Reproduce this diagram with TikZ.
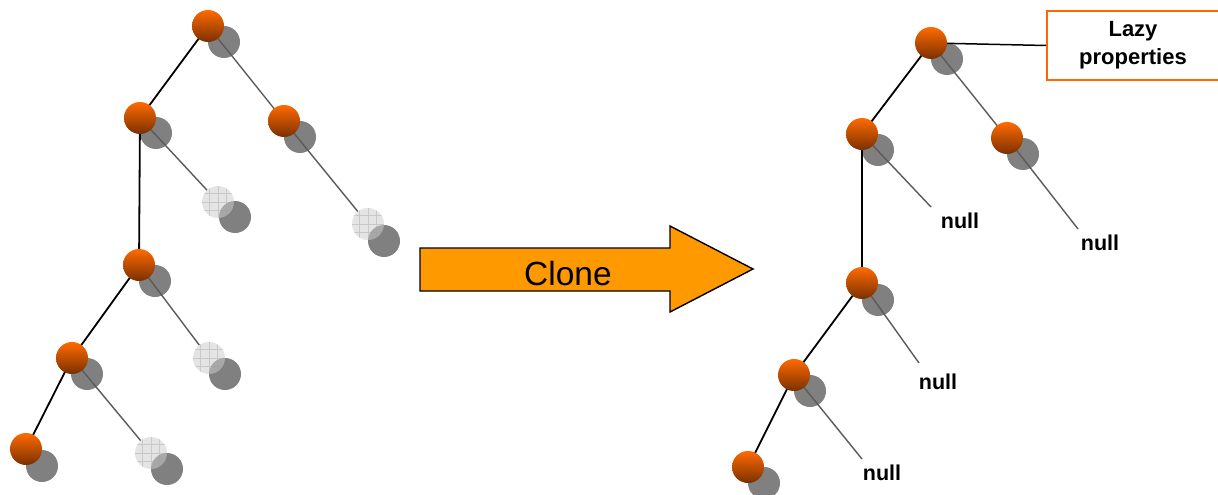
\documentclass[tikz,border=0pt]{standalone}
\usepackage{fontspec}
\setmainfont{Liberation Sans}
\definecolor{keytop}{RGB}{255,106,0}
\definecolor{keymid}{RGB}{236,94,0}
\definecolor{keybottom}{RGB}{122,48,0}
\definecolor{shadowgray}{RGB}{128,128,128}
\definecolor{emptyfill}{RGB}{204,204,204}
\definecolor{gridgray}{RGB}{160,160,160}
\definecolor{linkgray}{RGB}{90,90,90}
\definecolor{arrowfill}{RGB}{255,153,0}
\definecolor{boxline}{RGB}{255,102,0}
\begin{document}
\begin{tikzpicture}[x=1pt,y=-1pt,
  shadowdisc/.style={circle,fill=shadowgray,minimum size=32pt,inner sep=0pt},
  keydisc/.style={circle,top color=keytop,middle color=keymid,bottom color=keybottom,
    minimum size=32pt,inner sep=0pt},
  emptydisc/.style={circle,minimum size=32pt,inner sep=0pt,
    fill=emptyfill,fill opacity=0.53,
    path picture={\draw[gridgray,draw opacity=0.4,line width=0.6pt]
      ([xshift=-1pt,yshift=-1pt]path picture bounding box.south west)
      grid[step=8.5pt] (path picture bounding box.north east);}},
  leftlink/.style={line width=1.8pt,black},
  rightlink/.style={line width=1.4pt,linkgray},
  nulltext/.style={font=\fontsize{21.5}{25}\selectfont\bfseries,anchor=base,inner sep=0pt},
  clonearrow/.style={draw=black,line width=1.4pt,fill=arrowfill,line join=miter},
  clonetext/.style={font=\fontsize{33.5}{40}\selectfont,anchor=base,inner sep=0pt},
  lazybox/.style={draw=boxline,line width=2pt,fill=white,minimum width=172pt,
    minimum height=69pt,align=center,inner sep=0pt,
    font=\fontsize{22}{28}\selectfont\bfseries}
]
\useasboundingbox (0,0) rectangle (1218,495);

% ---------- left tree: shadows ----------
\node[shadowdisc] (l1s) at (224,42) {};
\node[shadowdisc] (l2s) at (156,133) {};
\node[shadowdisc] (l3s) at (300,137) {};
\node[shadowdisc] (l4s) at (155,281) {};
\node[shadowdisc] (l5s) at (87,374) {};
\node[shadowdisc] (l6s) at (42,466) {};
\node[shadowdisc] (las) at (235,217) {};
\node[shadowdisc] (lbs) at (384,241) {};
\node[shadowdisc] (lcs) at (225,374) {};
\node[shadowdisc] (lds) at (167,469) {};

% empty children
\node[emptydisc] (la) at (218,202) {};
\node[emptydisc] (lb) at (368,224) {};
\node[emptydisc] (lc) at (209,358) {};
\node[emptydisc] (ld) at (151,453) {};

% key positions
\coordinate (l1) at (208,26);
\coordinate (l2) at (140,118);
\coordinate (l3) at (284,121);
\coordinate (l4) at (139,265);
\coordinate (l5) at (72,358);
\coordinate (l6) at (26,449);

% links
\draw[leftlink] (l1) -- (l2);
\draw[leftlink] (l2) -- (l4);
\draw[leftlink] (l4) -- (l5);
\draw[leftlink] (l5) -- (l6);
\draw[rightlink] (l1) -- (l3);
\draw[rightlink] (l2) -- (la);
\draw[rightlink] (l3) -- (lb);
\draw[rightlink] (l4) -- (lc);
\draw[rightlink] (l5) -- (ld);

% keys
\node[keydisc] (l1k) at (l1) {};
\node[keydisc] (l2k) at (l2) {};
\node[keydisc] (l3k) at (l3) {};
\node[keydisc] (l4k) at (l4) {};
\node[keydisc] (l5k) at (l5) {};
\node[keydisc] (l6k) at (l6) {};

% ---------- clone arrow ----------
\draw[clonearrow] (420,248) -- (670,248) -- (670,226) -- (753,269)
  -- (670,312) -- (670,291) -- (420,291) -- cycle;
\node[clonetext] (clone) at (568,285) {Clone};

% ---------- right tree ----------
\node[shadowdisc] (r1s) at (947,59) {};
\node[shadowdisc] (r2s) at (878,150) {};
\node[shadowdisc] (r3s) at (1023,154) {};
\node[shadowdisc] (r4s) at (878,300) {};
\node[shadowdisc] (r5s) at (810,391) {};
\node[shadowdisc] (r6s) at (764,483) {};

\coordinate (r1) at (931,43);
\coordinate (r2) at (862,134);
\coordinate (r3) at (1007,138);
\coordinate (r4) at (862,283);
\coordinate (r5) at (794,375);
\coordinate (r6) at (748,467);

\coordinate (n2) at (931,207);
\coordinate (n3) at (1078,229);
\coordinate (n4) at (919,363);
\coordinate (n5) at (862,459);

\node[lazybox] (lazy) at (1133,45.5) {Lazy\\properties};

\draw[leftlink,line width=1.5pt] (r1) -- (lazy.west);
\draw[leftlink] (r1) -- (r2);
\draw[leftlink] (r2) -- (r4);
\draw[leftlink] (r4) -- (r5);
\draw[leftlink] (r5) -- (r6);
\draw[rightlink] (r1) -- (r3);
\draw[rightlink] (r2) -- (n2);
\draw[rightlink] (r3) -- (n3);
\draw[rightlink] (r4) -- (n4);
\draw[rightlink] (r5) -- (n5);

\node[keydisc] (r1k) at (r1) {};
\node[keydisc] (r2k) at (r2) {};
\node[keydisc] (r3k) at (r3) {};
\node[keydisc] (r4k) at (r4) {};
\node[keydisc] (r5k) at (r5) {};
\node[keydisc] (r6k) at (r6) {};

\node[nulltext] (null2) at (960,228) {null};
\node[nulltext] (null3) at (1100,250) {null};
\node[nulltext] (null4) at (938,389) {null};
\node[nulltext] (null5) at (882,480) {null};
\end{tikzpicture}
\end{document}
